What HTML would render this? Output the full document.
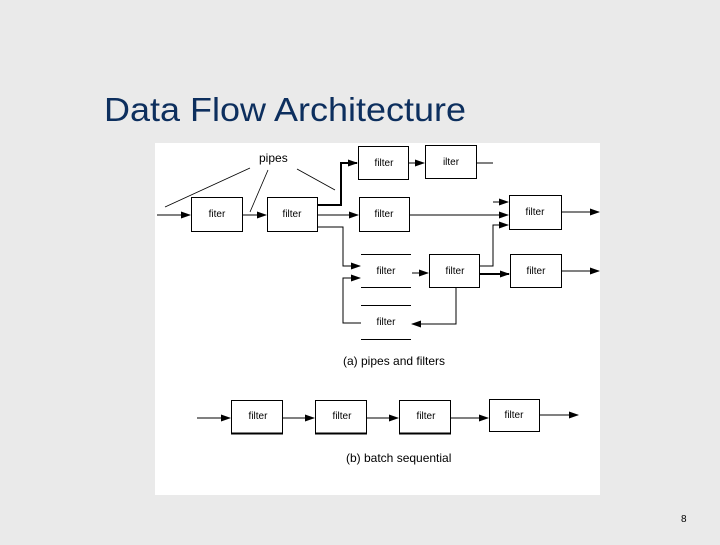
<!DOCTYPE html>
<html><head><style>
html,body{margin:0;padding:0;}
body{width:720px;height:540px;background:#eaeaea;overflow:hidden;font-family:"Liberation Sans",sans-serif;}
</style></head><body>
<svg width="720" height="540" viewBox="0 0 720 540" xmlns="http://www.w3.org/2000/svg" font-family="Liberation Sans, sans-serif">
<defs>
<marker id="a" markerWidth="10" markerHeight="8" refX="9" refY="4" orient="auto" markerUnits="userSpaceOnUse">
<path d="M0,0.5 L10,4 L0,7.5 Z" fill="#000"/>
</marker>
</defs>
<rect x="0" y="0" width="720" height="540" fill="#eaeaea"/>
<text x="104" y="121" font-size="33" fill="#0d2f5e" textLength="362" lengthAdjust="spacingAndGlyphs">Data Flow Architecture</text>
<rect x="155" y="143" width="445" height="352" fill="#fff"/>
<g stroke="#000" stroke-width="1" fill="none">
<!-- boxes -->
<rect x="191.5" y="197.5" width="51" height="34"/>
<rect x="267.5" y="197.5" width="50" height="34"/>
<rect x="358.5" y="146.5" width="50" height="33"/>
<rect x="425.5" y="145.5" width="51" height="33"/>
<rect x="359.5" y="197.5" width="50" height="34"/>
<rect x="509.5" y="195.5" width="52" height="34"/>
<rect x="429.5" y="254.5" width="50" height="33"/>
<rect x="510.5" y="254.5" width="51" height="33"/>
<!-- stores -->
<path d="M361 254.5H411M361 287.5H411M361 305.5H411M361 339.5H411"/>
<!-- pipes leader lines -->
<path d="M165 207L250 168M250 212L268 170M297 169L335 190" stroke-width="0.8"/>
<!-- main lines -->
<path d="M157 215H190" marker-end="url(#a)"/>
<path d="M243 215H266" marker-end="url(#a)"/>
<path d="M318 205H341V163H357" stroke-width="2" marker-end="url(#a)"/>
<path d="M409 163H424" marker-end="url(#a)"/>
<path d="M477 163H493"/>
<path d="M318 215H358" marker-end="url(#a)"/>
<path d="M410 215H508" marker-end="url(#a)"/>
<path d="M493 202H508" marker-end="url(#a)"/>
<path d="M318 227H343V266H360" marker-end="url(#a)"/>
<path d="M361 323H343V278H360" marker-end="url(#a)"/>
<path d="M412 273H428" marker-end="url(#a)"/>
<path d="M480 266H493V225H508" marker-end="url(#a)"/>
<path d="M480 274H509" stroke-width="2" marker-end="url(#a)"/>
<path d="M456 288V324H412" marker-end="url(#a)"/>
<path d="M562 212H599" marker-end="url(#a)"/>
<path d="M562 271H599" marker-end="url(#a)"/>
<!-- batch -->
<rect x="231.5" y="400.5" width="51" height="33"/>
<rect x="315.5" y="400.5" width="51" height="33"/>
<rect x="399.5" y="400.5" width="51" height="33"/>
<rect x="489.5" y="399.5" width="50" height="32"/>
<path d="M231 433.5H283M315 433.5H367M399 433.5H451" stroke-width="2"/>
<path d="M197 418H230" marker-end="url(#a)"/>
<path d="M283 418H314" marker-end="url(#a)"/>
<path d="M367 418H398" marker-end="url(#a)"/>
<path d="M451 418H488" marker-end="url(#a)"/>
<path d="M540 415H578" marker-end="url(#a)"/>
</g>
<g font-size="10" fill="#000" text-anchor="middle">
<text x="217" y="217">fiter</text>
<text x="292" y="217">filter</text>
<text x="384" y="166">filter</text>
<text x="451" y="165">ilter</text>
<text x="384" y="217">filter</text>
<text x="535" y="215">filter</text>
<text x="386" y="274">filter</text>
<text x="455" y="274">filter</text>
<text x="536" y="274">filter</text>
<text x="386" y="325">filter</text>
<text x="258" y="419">filter</text>
<text x="342" y="419">filter</text>
<text x="426" y="419">filter</text>
<text x="514" y="418">filter</text>
</g>
<g font-size="12" fill="#000">
<text x="259" y="162">pipes</text>
<text x="343" y="365">(a)  pipes and filters</text>
<text x="346" y="462">(b)  batch sequential</text>
</g>
<text x="681" y="522" font-size="10" fill="#000">8</text>
</svg>
</body></html>
